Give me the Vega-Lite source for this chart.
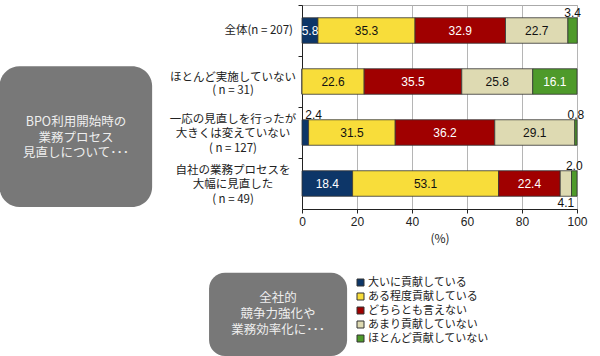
{
  "$schema": "https://vega.github.io/schema/vega-lite/v6.json",
  "width": 275,
  "height": 204,
  "autosize": {"type": "none"},
  "padding": {"left": 302, "top": 5, "right": 23, "bottom": 147},
  "background": "white",
  "config": {
    "view": {"stroke": "#aaaaaa", "strokeWidth": 1},
    "font": "Noto Sans CJK JP",
    "axis": {"labelFont": "Liberation Sans", "titleFont": "Noto Sans CJK JP", "labelColor": "#222", "titleColor": "#222", "domainColor": "#222", "tickColor": "#222"}
  },
  "datasets": {
    "d": [
      {"group": "全体(n = 207)", "category": "大いに貢献している", "k": 1, "value": 5.8},
      {"group": "全体(n = 207)", "category": "ある程度貢献している", "k": 2, "value": 35.3},
      {"group": "全体(n = 207)", "category": "どちらとも言えない", "k": 3, "value": 32.9},
      {"group": "全体(n = 207)", "category": "あまり貢献していない", "k": 4, "value": 22.7},
      {"group": "全体(n = 207)", "category": "ほとんど貢献していない", "k": 5, "value": 3.4},
      {"group": "ほとんど実施していない|( n = 31)", "category": "大いに貢献している", "k": 1, "value": 0},
      {"group": "ほとんど実施していない|( n = 31)", "category": "ある程度貢献している", "k": 2, "value": 22.6},
      {"group": "ほとんど実施していない|( n = 31)", "category": "どちらとも言えない", "k": 3, "value": 35.5},
      {"group": "ほとんど実施していない|( n = 31)", "category": "あまり貢献していない", "k": 4, "value": 25.8},
      {"group": "ほとんど実施していない|( n = 31)", "category": "ほとんど貢献していない", "k": 5, "value": 16.1},
      {"group": "一応の見直しを行ったが|大きくは変えていない|( n = 127)", "category": "大いに貢献している", "k": 1, "value": 2.4},
      {"group": "一応の見直しを行ったが|大きくは変えていない|( n = 127)", "category": "ある程度貢献している", "k": 2, "value": 31.5},
      {"group": "一応の見直しを行ったが|大きくは変えていない|( n = 127)", "category": "どちらとも言えない", "k": 3, "value": 36.2},
      {"group": "一応の見直しを行ったが|大きくは変えていない|( n = 127)", "category": "あまり貢献していない", "k": 4, "value": 29.1},
      {"group": "一応の見直しを行ったが|大きくは変えていない|( n = 127)", "category": "ほとんど貢献していない", "k": 5, "value": 0.8},
      {"group": "自社の業務プロセスを|大幅に見直した|( n = 49)", "category": "大いに貢献している", "k": 1, "value": 18.4},
      {"group": "自社の業務プロセスを|大幅に見直した|( n = 49)", "category": "ある程度貢献している", "k": 2, "value": 53.1},
      {"group": "自社の業務プロセスを|大幅に見直した|( n = 49)", "category": "どちらとも言えない", "k": 3, "value": 22.4},
      {"group": "自社の業務プロセスを|大幅に見直した|( n = 49)", "category": "あまり貢献していない", "k": 4, "value": 4.1},
      {"group": "自社の業務プロセスを|大幅に見直した|( n = 49)", "category": "ほとんど貢献していない", "k": 5, "value": 2.0}
    ],
    "groups": [
      {"group": "全体(n = 207)"},
      {"group": "ほとんど実施していない|( n = 31)"},
      {"group": "一応の見直しを行ったが|大きくは変えていない|( n = 127)"},
      {"group": "自社の業務プロセスを|大幅に見直した|( n = 49)"}
    ]
  },
  "layer": [
    {
      "layer": [
        {
          "data": {"name": "d"},
          "mark": {"type": "bar", "stroke": "#333", "strokeWidth": 0.8},
          "encoding": {
            "x": {"field": "value", "type": "quantitative", "stack": "zero",
              "scale": {"domain": [0, 100], "nice": false},
              "axis": {"values": [0, 20, 40, 60, 80, 100], "grid": true, "gridColor": "#b5b5b5", "title": "(%)", "titleFontWeight": "normal", "titleFontSize": 12, "titlePadding": 6, "labelFontSize": 12, "tickSize": 4, "labelPadding": 3, "labelFlush": false}},
            "y": {"field": "group", "type": "nominal",
              "scale": {"domain": ["全体(n = 207)", "ほとんど実施していない|( n = 31)", "一応の見直しを行ったが|大きくは変えていない|( n = 127)", "自社の業務プロセスを|大幅に見直した|( n = 49)"], "paddingInner": 0.5, "paddingOuter": 0.25},
              "axis": {"labels": false, "title": null, "ticks": true, "tickSize": 4, "bandPosition": 0, "tickOffset": -12.75}},
            "color": {"field": "category", "type": "nominal",
              "scale": {"domain": ["大いに貢献している", "ある程度貢献している", "どちらとも言えない", "あまり貢献していない", "ほとんど貢献していない"], "range": ["#0d3668", "#f8dd3a", "#a00000", "#dedab2", "#4e9a2a"]},
              "legend": {"orient": "none", "legendX": 53, "legendY": 272, "title": null, "symbolType": "square", "symbolSize": 49, "symbolStrokeColor": "#333", "symbolStrokeWidth": 1, "labelFontSize": 11, "labelFont": "Noto Sans CJK JP", "labelColor": "#222", "rowPadding": 2, "labelOffset": 2, "padding": 0}},
            "order": {"field": "k", "type": "quantitative"}
          }
        },
        {
          "data": {"name": "d"},
          "mark": {"type": "text", "font": "Liberation Sans", "fontSize": 12, "align": "center", "baseline": "middle"},
          "encoding": {
            "x": {"field": "value", "type": "quantitative", "stack": "zero", "bandPosition": 0.5},
            "y": {"field": "group", "type": "nominal"},
            "order": {"field": "k", "type": "quantitative"},
            "detail": {"field": "category", "type": "nominal"},
            "text": {"condition": {"test": "datum.value < 5", "value": ""}, "field": "value", "type": "quantitative", "format": ".1f"},
            "color": {"condition": {"test": "datum.k == 1 || datum.k == 3 || datum.k == 5", "value": "white"}, "value": "#111"}
          }
        },
        {
          "data": {"name": "d"},
          "mark": {"type": "text", "font": "Liberation Sans", "fontSize": 12, "align": "center", "baseline": "middle", "dy": -18, "color": "#111"},
          "encoding": {
            "x": {"field": "value", "type": "quantitative", "stack": "zero", "bandPosition": 0.5},
            "y": {"field": "group", "type": "nominal"},
            "order": {"field": "k", "type": "quantitative"},
            "detail": {"field": "category", "type": "nominal"},
            "text": {"condition": {"test": "!(datum.value > 0 && datum.value < 5 && datum.k != 1 && datum.k != 4)", "value": ""}, "field": "value", "type": "quantitative", "format": ".1f"}
          }
        },
        {
          "data": {"name": "d"},
          "mark": {"type": "text", "font": "Liberation Sans", "fontSize": 12, "align": "left", "baseline": "middle", "dy": -18, "dx": 0, "color": "#111"},
          "encoding": {
            "x": {"field": "value", "type": "quantitative", "stack": "zero", "bandPosition": 0.5},
            "y": {"field": "group", "type": "nominal"},
            "order": {"field": "k", "type": "quantitative"},
            "detail": {"field": "category", "type": "nominal"},
            "text": {"condition": {"test": "!(datum.value > 0 && datum.value < 5 && datum.k == 1)", "value": ""}, "field": "value", "type": "quantitative", "format": ".1f"}
          }
        },
        {
          "data": {"name": "d"},
          "mark": {"type": "text", "font": "Liberation Sans", "fontSize": 12, "align": "center", "baseline": "middle", "dy": 19, "color": "#111"},
          "encoding": {
            "x": {"field": "value", "type": "quantitative", "stack": "zero", "bandPosition": 0.5},
            "y": {"field": "group", "type": "nominal"},
            "order": {"field": "k", "type": "quantitative"},
            "detail": {"field": "category", "type": "nominal"},
            "text": {"condition": {"test": "!(datum.value > 0 && datum.value < 5 && datum.k == 4)", "value": ""}, "field": "value", "type": "quantitative", "format": ".1f"}
          }
        },
        {
          "data": {"name": "groups"},
          "transform": [{"filter": "length(split(datum.group, '|')) == 1"}],
          "mark": {"type": "text", "align": "right", "baseline": "middle", "fontSize": 11.5, "color": "#222", "lineBreak": "|", "clip": false},
          "encoding": {
            "x": {"datum": -3.3, "type": "quantitative"},
            "y": {"field": "group", "type": "nominal"},
            "text": {"field": "group", "type": "nominal"}
          }
        },
        {
          "data": {"name": "groups"},
          "transform": [{"filter": "length(split(datum.group, '|')) == 2"}],
          "mark": {"type": "text", "align": "center", "baseline": "middle", "fontSize": 11.5, "lineHeight": 13.5, "dy": -4, "color": "#222", "lineBreak": "|", "clip": false},
          "encoding": {
            "x": {"datum": -25.1, "type": "quantitative"},
            "y": {"field": "group", "type": "nominal"},
            "text": {"field": "group", "type": "nominal"}
          }
        },
        {
          "data": {"name": "groups"},
          "transform": [{"filter": "length(split(datum.group, '|')) == 3"}],
          "mark": {"type": "text", "align": "center", "baseline": "middle", "fontSize": 11.5, "lineHeight": 14.5, "dy": -13, "color": "#222", "lineBreak": "|", "clip": false},
          "encoding": {
            "x": {"datum": -25.1, "type": "quantitative"},
            "y": {"field": "group", "type": "nominal"},
            "text": {"field": "group", "type": "nominal"}
          }
        }
      ]
    },
    {
      "data": {"values": [{}]},
      "layer": [
        {
          "mark": {"type": "rect", "fill": "#787878", "cornerRadius": 20, "clip": false},
          "encoding": {
            "x": {"datum": -110, "type": "quantitative"},
            "x2": {"datum": -54.5},
            "y": {"datum": 1.2, "type": "quantitative", "scale": {"domain": [0, 4], "reverse": true, "nice": false, "zero": false}, "axis": null},
            "y2": {"datum": 3.96}
          }
        },
        {
          "mark": {"type": "text", "fill": "#eeeeee", "fontSize": 12.5, "lineHeight": 15.5, "dy": -15.5, "align": "center", "baseline": "middle", "lineBreak": "|", "clip": false},
          "encoding": {
            "x": {"datum": -82.2, "type": "quantitative"},
            "y": {"datum": 2.6, "type": "quantitative"},
            "text": {"value": "BPO利用開始時の|業務プロセス|見直しについて･･･"}
          }
        },
        {
          "mark": {"type": "rect", "fill": "#787878", "cornerRadius": 16, "clip": false},
          "encoding": {
            "x": {"datum": -33.8, "type": "quantitative"},
            "x2": {"datum": 16.4},
            "y": {"datum": 5.25, "type": "quantitative"},
            "y2": {"datum": 6.88}
          }
        },
        {
          "mark": {"type": "text", "fill": "#eeeeee", "fontSize": 12.5, "lineHeight": 16, "dy": -16, "align": "center", "baseline": "middle", "lineBreak": "|", "clip": false},
          "encoding": {
            "x": {"datum": -8.7, "type": "quantitative"},
            "y": {"datum": 6.06, "type": "quantitative"},
            "text": {"value": "全社的|競争力強化や|業務効率化に･･･"}
          }
        }
      ]
    }
  ],
  "resolve": {"scale": {"y": "independent"}, "axis": {"y": "independent"}}
}
